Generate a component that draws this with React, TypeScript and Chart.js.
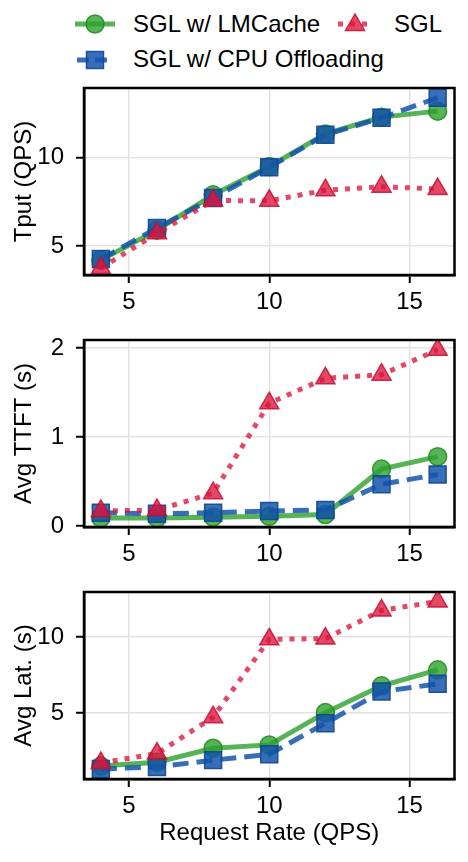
import React, { useEffect, useRef } from "react";
import { Chart, registerables } from "chart.js";

Chart.register(...registerables);

// ---------------- data ----------------
const requestRate = [4, 6, 8, 10, 12, 14, 16];
const xTickValues = [5, 10, 15];

const tputLMCache = [4.2, 5.9, 7.9, 9.5, 11.35, 12.3, 12.64];
const tputOffload = [4.26, 6.02, 7.72, 9.46, 11.3, 12.26, 13.4];
const tputSGL = [3.75, 5.72, 7.58, 7.56, 8.16, 8.36, 8.23];

const ttftLMCache = [0.09, 0.09, 0.1, 0.11, 0.13, 0.64, 0.78];
const ttftOffload = [0.15, 0.14, 0.15, 0.17, 0.18, 0.47, 0.58];
const ttftSGL = [0.17, 0.18, 0.37, 1.38, 1.66, 1.7, 1.98];

const latLMCache = [1.53, 1.78, 2.7, 2.92, 5.04, 6.8, 7.85];
const latOffload = [1.34, 1.47, 1.92, 2.3, 4.34, 6.42, 6.93];
const latSGL = [1.73, 2.35, 4.74, 9.85, 9.9, 11.75, 12.34];

const tputTicks = [5, 10];
const ttftTicks = [0, 1, 2];
const latTicks = [5, 10];

const seriesNames = ["SGL w/ LMCache", "SGL w/ CPU Offloading", "SGL"];

// ---------------- styles ----------------
const FONT = "'Liberation Sans', Arial, Helvetica, sans-serif";
const GREEN = "rgba(44,160,44,0.8)";
const GREEN_EDGE = "rgba(30,140,30,0.85)";
const BLUE = "rgba(20,85,170,0.85)";
const BLUE_EDGE = "rgba(15,70,150,0.9)";
const RED = "rgba(220,20,60,0.78)";
const RED_EDGE = "rgba(200,15,50,0.85)";

const framePlugin = {
  id: "frame",
  afterDraw(chart: any) {
    const { ctx, chartArea: a } = chart;
    ctx.save();
    ctx.strokeStyle = "#000";
    ctx.lineWidth = 2.5;
    ctx.strokeRect(a.left, a.top, a.right - a.left, a.bottom - a.top);
    ctx.restore();
  },
};

type PanelProps = {
  top: number;
  plotHeight: number;
  xAxisHeight: number;
  yTitle: string;
  xTitle?: string;
  yMin: number;
  yMax: number;
  yTicks: number[];
  green: number[];
  blue: number[];
  red: number[];
};

const W = 468;
const PAD_TOP = 20;
const Y_AXIS_W = 84;
const PAD_RIGHT = 12;

function toPts(ys: number[]) {
  return requestRate.map((x, i) => ({ x, y: ys[i] }));
}

function Panel(p: PanelProps) {
  const ref = useRef<HTMLCanvasElement>(null);
  const H = PAD_TOP + p.plotHeight + p.xAxisHeight;
  useEffect(() => {
    if (!ref.current) return;
    const tickFont = { family: FONT, size: 24 };
    const chart = new Chart(ref.current, {
      type: "line",
      data: {
        datasets: [
          {
            label: seriesNames[0],
            data: toPts(p.green),
            borderColor: GREEN,
            backgroundColor: GREEN,
            borderWidth: 5,
            pointStyle: "circle",
            pointRadius: 9,
            pointBorderWidth: 1.5,
            pointBorderColor: GREEN_EDGE,
            pointBackgroundColor: GREEN,
            tension: 0,
            order: 3,
          },
          {
            label: seriesNames[1],
            data: toPts(p.blue),
            borderColor: BLUE,
            backgroundColor: BLUE,
            borderWidth: 5,
            borderDash: [16, 8],
            pointStyle: "rect",
            pointRadius: 12,
            pointBorderWidth: 1.5,
            pointBorderColor: BLUE_EDGE,
            pointBackgroundColor: BLUE,
            tension: 0,
            order: 2,
          },
          {
            label: seriesNames[2],
            data: toPts(p.red),
            borderColor: RED,
            backgroundColor: RED,
            borderWidth: 5,
            borderDash: [5, 7],
            pointStyle: "triangle",
            pointRadius: 11,
            pointBorderWidth: 1.5,
            pointBorderColor: RED_EDGE,
            pointBackgroundColor: RED,
            tension: 0,
            order: 1,
          },
        ],
      },
      options: {
        responsive: false,
        animation: false,
        devicePixelRatio: 1,
        layout: { padding: { top: PAD_TOP, right: PAD_RIGHT, left: 0, bottom: 0 } },
        plugins: { legend: { display: false }, tooltip: { enabled: false } },
        scales: {
          x: {
            type: "linear",
            min: 3.4,
            max: 16.6,
            afterBuildTicks: (s: any) => {
              s.ticks = xTickValues.map((v) => ({ value: v }));
            },
            afterFit: (s: any) => {
              s.height = p.xAxisHeight;
              s.paddingLeft = 0;
              s.paddingRight = 0;
            },
            grid: {
              color: "#e3e3e3",
              lineWidth: 1.5,
              tickColor: "#000",
              tickLength: 8,
              tickWidth: 2,
            },
            border: { color: "#000", width: 2.5 },
            ticks: { color: "#000", font: tickFont, padding: 5, maxRotation: 0 },
            title: p.xTitle
              ? {
                  display: true,
                  text: p.xTitle,
                  color: "#000",
                  font: { family: FONT, size: 24 },
                  padding: { top: 0, bottom: 11 },
                }
              : { display: false },
          },
          y: {
            type: "linear",
            min: p.yMin,
            max: p.yMax,
            afterBuildTicks: (s: any) => {
              s.ticks = p.yTicks.map((v) => ({ value: v }));
            },
            afterFit: (s: any) => {
              s.width = Y_AXIS_W;
              s.paddingTop = 0;
              s.paddingBottom = 0;
            },
            grid: {
              color: "#e3e3e3",
              lineWidth: 1.5,
              tickColor: "#000",
              tickLength: 8,
              tickWidth: 2,
            },
            border: { color: "#000", width: 2.5 },
            ticks: { color: "#000", font: tickFont, padding: 12 },
            title: {
              display: true,
              text: p.yTitle,
              color: "#000",
              font: { family: FONT, size: 24 },
              padding: { top: 10, bottom: 0 },
            },
          },
        },
      },
      plugins: [framePlugin],
    } as any);
    return () => chart.destroy();
  }, []);
  return (
    <canvas
      ref={ref}
      width={W}
      height={H}
      style={{ position: "absolute", left: 0, top: p.top - PAD_TOP, width: W, height: H }}
    />
  );
}

function Legend() {
  const text: React.CSSProperties = {
    position: "absolute",
    fontFamily: FONT,
    fontSize: 24,
    lineHeight: "28px",
    color: "#000",
    whiteSpace: "nowrap",
  };
  const tri = (cx: number, cy: number, r: number) =>
    `${cx},${cy - r} ${cx - r * 0.866},${cy + r * 0.5} ${cx + r * 0.866},${cy + r * 0.5}`;
  return (
    <>
      <svg
        width={W}
        height={80}
        style={{ position: "absolute", left: 0, top: 0 }}
      >
        <line x1={75} y1={24} x2={115} y2={24} stroke={GREEN} strokeWidth={5} />
        <circle cx={95} cy={24} r={9} fill={GREEN} stroke={GREEN_EDGE} strokeWidth={1.5} />
        <line
          x1={338}
          y1={24}
          x2={372}
          y2={24}
          stroke={RED}
          strokeWidth={5}
          strokeDasharray="5 7"
        />
        <polygon points={tri(355, 25, 11)} fill={RED} stroke={RED_EDGE} strokeWidth={1.5} />
        <line
          x1={77}
          y1={60}
          x2={113}
          y2={60}
          stroke={BLUE}
          strokeWidth={5}
          strokeDasharray="12 6"
        />
        <rect x={86.5} y={51.5} width={17} height={17} fill={BLUE} stroke={BLUE_EDGE} strokeWidth={1.5} />
      </svg>
      <div style={{ ...text, left: 133, top: 10 }}>{seriesNames[0]}</div>
      <div style={{ ...text, left: 394, top: 10 }}>{seriesNames[2]}</div>
      <div style={{ ...text, left: 133, top: 45 }}>{seriesNames[1]}</div>
    </>
  );
}

export default function App() {
  return (
    <div
      style={{
        position: "absolute",
        left: 0,
        top: 0,
        width: W,
        height: 862,
        background: "#fff",
        overflow: "hidden",
      }}
    >
      <Legend />
      <Panel
        top={88}
        plotHeight={187}
        xAxisHeight={45}
        yTitle="Tput (QPS)"
        yMin={3.36}
        yMax={13.95}
        yTicks={tputTicks}
        green={tputLMCache}
        blue={tputOffload}
        red={tputSGL}
      />
      <Panel
        top={340}
        plotHeight={187}
        xAxisHeight={45}
        yTitle="Avg TTFT (s)"
        yMin={-0.01}
        yMax={2.09}
        yTicks={ttftTicks}
        green={ttftLMCache}
        blue={ttftOffload}
        red={ttftSGL}
      />
      <Panel
        top={592}
        plotHeight={187}
        xAxisHeight={80}
        yTitle="Avg Lat. (s)"
        xTitle="Request Rate (QPS)"
        yMin={0.68}
        yMax={12.96}
        yTicks={latTicks}
        green={latLMCache}
        blue={latOffload}
        red={latSGL}
      />
    </div>
  );
}
